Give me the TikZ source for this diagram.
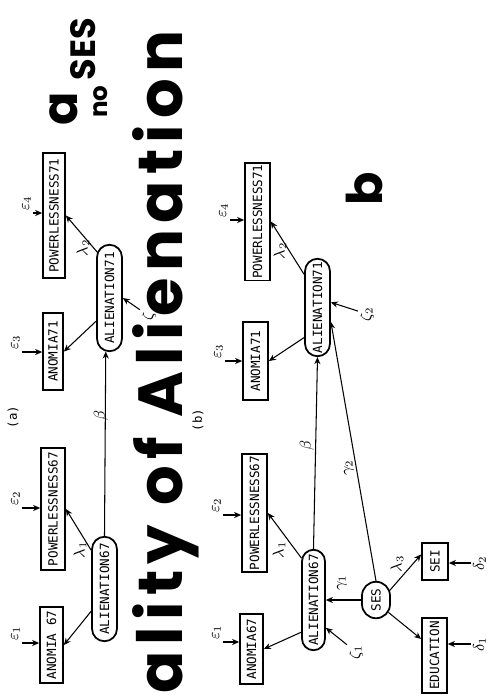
\documentclass[tikz,border=0pt]{standalone}
\usepackage{fontspec}
\newfontfamily\boxfont{DejaVu Sans Mono}
\newfontfamily\handfont{Poppins}
\usetikzlibrary{arrows.meta,shapes.misc}

\tikzset{
    obsbox/.style={draw, line width=1pt, rotate=90, inner sep=1pt,
        font=\boxfont\fontsize{7.2}{8}\selectfont},
    latent/.style={obsbox, rounded rectangle},
    arr/.style={-{Stealth[length=4pt,width=3.5pt]}, line width=0.6pt},
    coef/.style={rotate=90, inner sep=1pt, font=\fontsize{9}{10}\selectfont},
    errlab/.style={coef, anchor=south west},
    hand/.style={rotate=90, inner sep=0pt,
        font=\handfont\bfseries\fontsize{36}{40}\selectfont\addfontfeatures{LetterSpace=10}},
}

\begin{document}
\begin{tikzpicture}[x=0.02cm, y=-0.02cm]
    \useasboundingbox (0,0) rectangle (488,698);
    \clip (0,0) rectangle (488,698);

    % Handwritten notes
    \node[hand, anchor=base east, font=\handfont\bfseries\fontsize{35.5}{40}\selectfont\addfontfeatures{LetterSpace=10}]
        (title) at (182,30) {ality of Alienation};
    \node[hand, anchor=base, font=\handfont\bfseries\fontsize{28}{30}\selectfont]
        (tagA) at (77,109) {a};
    \node[hand, anchor=base west, font=\handfont\bfseries\fontsize{20}{22}\selectfont]
        (noses) at (95,118) {\fontsize{14}{16}\selectfont\raisebox{-7pt}{no}
        \fontsize{20}{22}\selectfont SES};
    \node[hand, font=\handfont\bfseries\fontsize{28}{30}\selectfont]
        (tagB) at (364,189) {b};

    % Model (a)
    \node[coef, font=\boxfont\fontsize{7}{8}\selectfont] (laba) at (13,417) {(a)};
    \node[obsbox, minimum width=1.52cm, minimum height=0.46cm] (anom67a) at (51.5,645) {ANOMIA 67};
    \node[obsbox, minimum width=2.44cm, minimum height=0.48cm] (pow67a) at (53,509) {POWERLESSNESS67};
    \node[latent, minimum width=2.16cm, minimum height=0.5cm] (alien67a) at (104.5,589) {ALIENATION67};
    \node[obsbox, minimum width=1.54cm, minimum height=0.4cm] (anom71a) at (53,351.5) {ANOMIA71};
    \node[obsbox, minimum width=2.5cm, minimum height=0.44cm] (pow71a) at (54,215.5) {POWERLESSNESS71};
    \node[latent, minimum width=2.2cm, minimum height=0.5cm] (alien71a) at (109.5,298) {ALIENATION71};

    \draw[arr] (alien67a.149) -- (anom67a.south);
    \draw[arr] (alien67a.19) -- (pow67a.south);
    \draw[arr] (alien71a.150) -- (anom71a.south);
    \draw[arr] (alien71a.15) -- (pow71a.south);
    \draw[arr] (alien67a.east) -- (alien71a.176);

    \node[coef] (lam1a) at (80,550) {$\lambda_1$};
    \node[coef] (lam2a) at (83,248) {$\lambda_2$};
    \node[coef] (betaa) at (101,415) {$\beta$};
    \node[coef] (zetaa) at (149,316) {$\zeta$};
    \draw[arr] (zetaa) -- (alien71a.south);

    % Model (b)
    \node[coef, font=\boxfont\fontsize{7}{8}\selectfont] (labb) at (198,420) {(b)};
    \node[obsbox, minimum width=1.4cm, minimum height=0.46cm] (anom67b) at (251.5,649) {ANOMIA67};
    \node[obsbox, minimum width=2.26cm, minimum height=0.5cm] (pow67b) at (254.5,513) {POWERLESSNESS67};
    \node[latent, minimum width=2.08cm, minimum height=0.46cm] (alien67b) at (313.5,600) {ALIENATION67};
    \node[obsbox, minimum width=1.56cm, minimum height=0.5cm] (anom71b) at (255.5,361) {ANOMIA71};
    \node[obsbox, minimum width=2.34cm, minimum height=0.5cm] (pow71b) at (257.5,221.5) {POWERLESSNESS71};
    \node[latent, minimum width=2.02cm, minimum height=0.5cm] (alien71b) at (317.5,307.5) {ALIENATION71};
    \node[latent, minimum width=0.8cm, minimum height=0.56cm] (sesb) at (376,600) {SES};
    \node[obsbox, minimum width=0.74cm, minimum height=0.52cm] (seib) at (435,561.5) {SEI};
    \node[obsbox, minimum width=1.5cm, minimum height=0.5cm] (edub) at (434.5,655.5) {EDUCATION};

    \draw[arr] (alien67b.159) -- (anom67b.south);
    \draw[arr] (alien67b.16) -- (pow67b.south);
    \draw[arr] (alien71b.156) -- (anom71b.south);
    \draw[arr] (alien71b.22) -- (pow71b.south);
    \draw[arr] (alien67b.east) -- (alien71b.west);
    \draw[arr] (sesb.north) -- (alien67b.south);
    \draw[arr] (sesb.east) -- (alien71b.223);
    \draw[arr] (sesb.305) -- (seib.63);
    \draw[arr] (sesb.225) -- (edub.39);

    \node[coef] (lam1b) at (279,550) {$\lambda_1$};
    \node[coef] (lam2b) at (280,251) {$\lambda_2$};
    \node[coef] (lam3b) at (397,564) {$\lambda_3$};
    \node[coef] (betab) at (307,445) {$\beta$};
    \node[coef] (gam1b) at (342,583) {$\gamma_1$};
    \node[coef] (gam2b) at (349,468) {$\gamma_2$};
    \node[coef] (zeta1b) at (356,652) {$\zeta_1$};
    \node[coef] (zeta2b) at (367,314) {$\zeta_2$};
    \draw[arr] (zeta1b) -- (alien67b.204);
    \draw[arr] (zeta2b) -- (alien71b.291);

    % Error terms
    \foreach \nm/\px/\py/\k/\tgt in {
        eps1a/22/643/1/anom67a, eps2a/22/508/2/pow67a,
        eps3a/22/352/3/anom71a, eps4a/33/213/4/pow71a,
        eps1b/223/642/1/anom67b, eps2b/223/515/2/pow67b,
        eps3b/225/361/3/anom71b, eps4b/230/220/4/pow71b}{
        \node[errlab] (\nm) at (\px,\py) {$\varepsilon_{\k}$};
        \draw[arr] (\nm.south west) -- (\nm.south west -| \tgt.north);
    }
    \foreach \nm/\py/\k/\tgt in {del1b/644/1/edub, del2b/563/2/seib}{
        \node[coef, anchor=north] (\nm) at (471,\py) {$\delta_{\k}$};
        \draw[arr] (\nm.north) -- (\nm.north -| \tgt.south);
    }

\end{tikzpicture}
\end{document}
